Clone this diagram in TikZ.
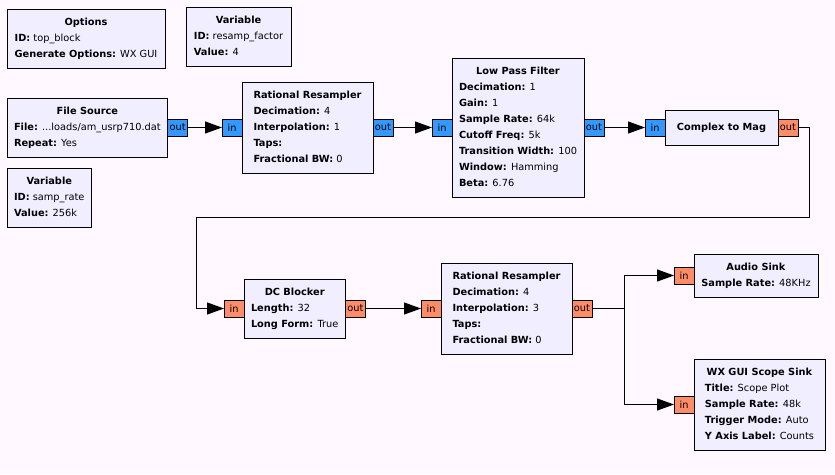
\documentclass[tikz,border=0pt]{standalone}
\usepackage{fontspec}
\setmainfont{DejaVu Sans}
\usepackage{tikz}
\usetikzlibrary{arrows.meta, positioning}
\definecolor{canvas}{HTML}{FFF9FF}
\definecolor{blockfill}{HTML}{F1EFFF}
\definecolor{cplx}{HTML}{3399FF}
\definecolor{flt}{HTML}{FF8C69}
\newcommand{\blocktext}[2]{\begin{tabular}{@{}l@{}}\multicolumn{1}{@{}c@{}}{\textbf{#1}}\\#2\end{tabular}}
\newcommand{\prm}[2]{\textbf{#1:} #2}
\tikzset{
        >={Triangle[length=17pt, width=12pt]}, % filled arrow heads
        every node/.style={font=\fontsize{9.8}{16}\selectfont}, % block text
        block/.style={draw, fill=blockfill, line width=1pt, anchor=north west, inner xsep=7pt, inner ysep=5.5pt, outer sep=0pt, minimum width=#1}, % a flowgraph block
        block/.default=0pt,
        port/.style={draw, line width=1pt, minimum width=20pt, minimum height=17pt, inner sep=0pt, outer sep=0pt}, % sets properties for each port
        cport/.style={port, fill=cplx}, % complex stream
        fport/.style={port, fill=flt}, % float stream
        flow/.style={->, line width=1pt}, % connections
    }
\begin{document}
\begin{tikzpicture}[x=1pt, y=-1pt]
    \fill[canvas] (0,0) rectangle (835,474);
    \useasboundingbox (0,0) rectangle (835,474);
    % blocks
    \node[block=158pt] (opts) at (7,9) {\blocktext{Options}{\prm{ID}{top\_block}\\ \prm{Generate Options}{WX GUI}}};
    \node[block=105pt] (varfac) at (186,7) {\blocktext{Variable}{\prm{ID}{resamp\_factor}\\ \prm{Value}{4}}};
    \node[block=157pt] (fsrc) at (7,98) {\blocktext{File Source}{\prm{File}{...loads/am\_usrp710.dat}\\ \prm{Repeat}{Yes}}};
    \node[block=84pt] (varrate) at (7,168) {\blocktext{Variable}{\prm{ID}{samp\_rate}\\ \prm{Value}{256k}}};
    \node[block=131pt] (rr1) at (242,82) {\blocktext{Rational Resampler}{\prm{Decimation}{4}\\ \prm{Interpolation}{1}\\ \prm{Taps}{}\\ \prm{Fractional BW}{0}}};
    \node[block=131pt] (lpf) at (452,58) {\blocktext{Low Pass Filter}{\prm{Decimation}{1}\\ \prm{Gain}{1}\\ \prm{Sample Rate}{64k}\\ \prm{Cutoff Freq}{5k}\\ \prm{Transition Width}{100}\\ \prm{Window}{Hamming}\\ \prm{Beta}{6.76}}};
    \node[block=113pt, minimum height=35pt] (mag) at (665,110) {\textbf{Complex to Mag}};
    \node[block=101pt] (dcb) at (244,279) {\blocktext{DC Blocker}{\prm{Length}{32}\\ \prm{Long Form}{True}}};
    \node[block=131pt] (rr2) at (441,263) {\blocktext{Rational Resampler}{\prm{Decimation}{4}\\ \prm{Interpolation}{3}\\ \prm{Taps}{}\\ \prm{Fractional BW}{0}}};
    \node[block=124pt] (audio) at (694,254) {\blocktext{Audio Sink}{\prm{Sample Rate}{48KHz}}};
    \node[block=131pt] (scope) at (694,359) {\blocktext{WX GUI Scope Sink}{\prm{Title}{Scope Plot}\\ \prm{Sample Rate}{48k}\\ \prm{Trigger Mode}{Auto}\\ \prm{Y Axis Label}{Counts}}};
    % ports
    \node[cport, right=0pt of fsrc] (fsrc-out) {out};
    \node[cport, left=0pt of rr1] (rr1-in) {in};
    \node[cport, right=0pt of rr1] (rr1-out) {out};
    \node[cport, left=0pt of lpf] (lpf-in) {in};
    \node[cport, right=0pt of lpf] (lpf-out) {out};
    \node[cport, left=0pt of mag] (mag-in) {in};
    \node[fport, right=0pt of mag] (mag-out) {out};
    \node[fport, left=0pt of dcb] (dcb-in) {in};
    \node[fport, right=0pt of dcb] (dcb-out) {out};
    \node[fport, left=0pt of rr2] (rr2-in) {in};
    \node[fport, right=0pt of rr2] (rr2-out) {out};
    \node[fport, left=0pt of audio] (audio-in) {in};
    \node[fport, left=0pt of scope] (scope-in) {in};
    % connections
    \coordinate (wrap-r) at (809,217);
    \coordinate (wrap-l) at (196,217);
    \coordinate[right=32pt of rr2-out] (split);
    \draw[flow]
      (fsrc-out) edge (rr1-in)
      (rr1-out) edge (lpf-in)
      (lpf-out) edge (mag-in)
      (dcb-out) edge (rr2-in);
    \draw[flow] (mag-out) -| (wrap-r) -- (wrap-l) |- (dcb-in);
    \draw[line width=1pt] (rr2-out) -- (split);
    \draw[flow] (split) |- (audio-in);
    \draw[flow] (split) |- (scope-in);
\end{tikzpicture}
\end{document}
